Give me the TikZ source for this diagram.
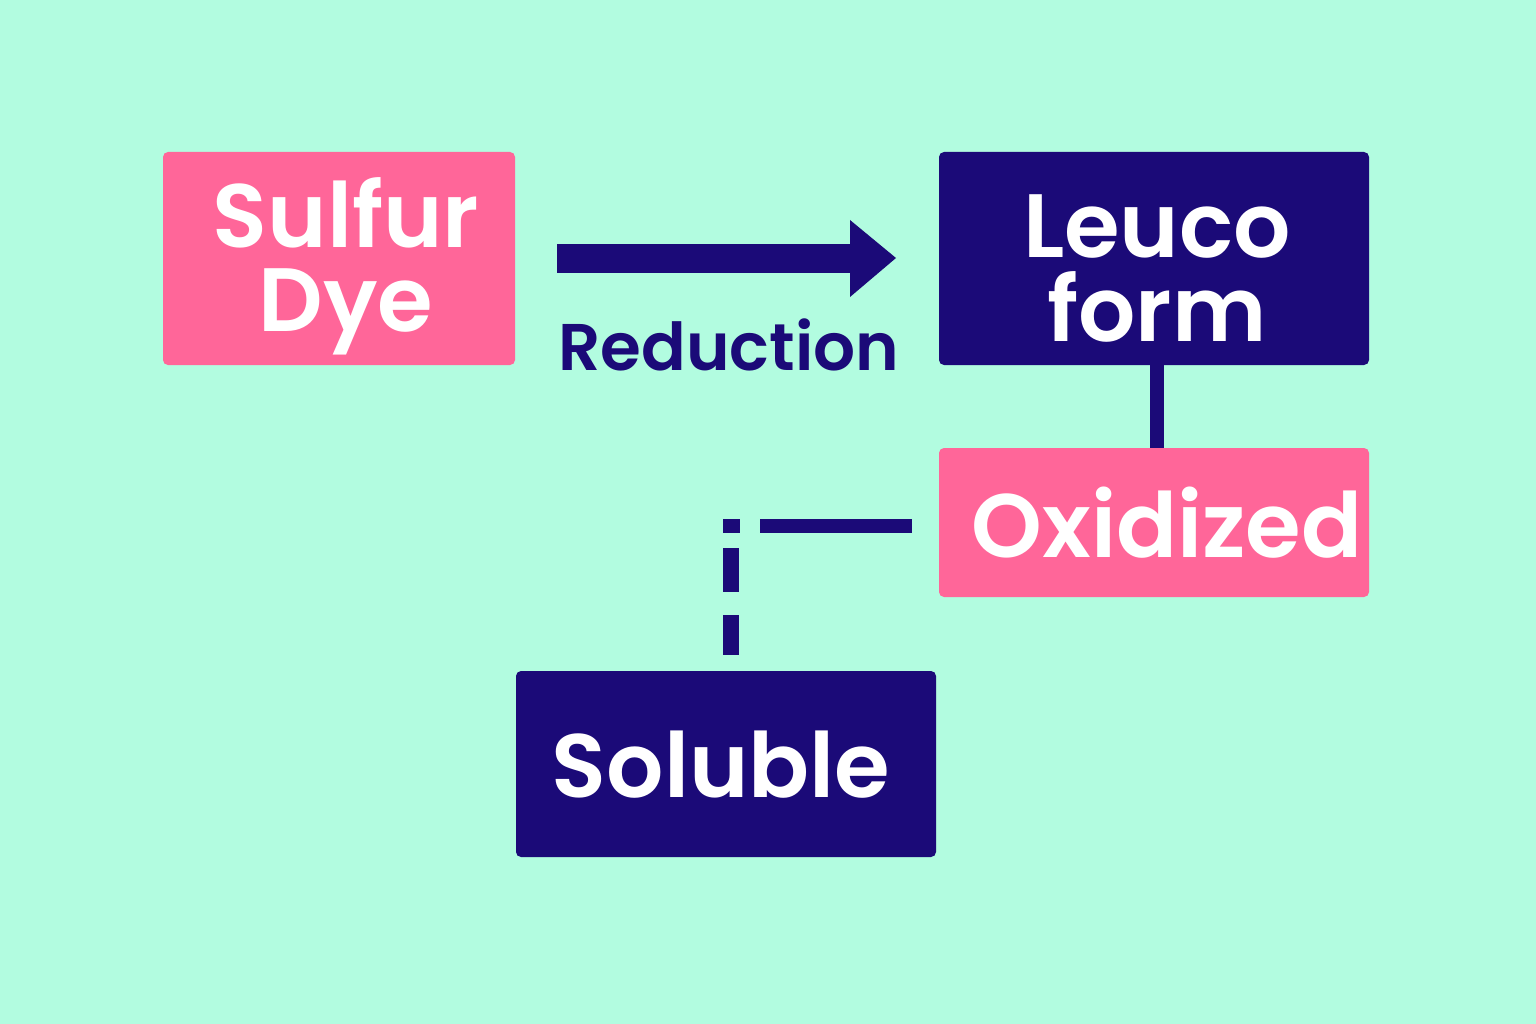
\documentclass[tikz,border=0pt]{standalone}
\usepackage{fontspec}
\setmainfont{Poppins}[BoldFont={Poppins SemiBold}]
\definecolor{bg}{HTML}{B2FCE0}
\definecolor{pk}{HTML}{FF6699}
\definecolor{nv}{HTML}{1B0A78}
\begin{document}
\begin{tikzpicture}[x=1pt,y=-1pt,
  lbl/.style={text=white,font=\bfseries\fontsize{90}{84}\selectfont,align=center,inner sep=0pt}]
\fill[bg] (0,0) rectangle (1536,1024);
\useasboundingbox (0,0) rectangle (1536,1024);
\fill[pk,rounded corners=5pt] (163,152) rectangle (515,365);
\fill[nv,rounded corners=5pt] (939,152) rectangle (1369,365);
\fill[pk,rounded corners=5pt] (939,448) rectangle (1369,597);
\fill[nv,rounded corners=5pt] (516,671) rectangle (936,857);
\node[lbl] (sd) at (346,266) {Sulfur\\Dye};
\node[lbl] (lf) at (1157,268) {Leuco\\form};
\node[lbl] (ox) at (1167,523) {Oxidized};
\node[lbl] (so) at (721,765) {Soluble};
\fill[nv] (557,244) rectangle (852,273);
\fill[nv] (850,220) -- (896,258) -- (850,297) -- cycle;
\node[text=nv,font=\bfseries\fontsize{66}{70}\selectfont] (red) at (729,345) {Reduction};
\draw[nv,line width=14pt] (1157,365) -- (1157,448);
\fill[nv] (760,519) rectangle (912,533);
\fill[nv] (723,519) rectangle (740,533);
\fill[nv] (723,548) rectangle (739,592);
\fill[nv] (723,615) rectangle (739,655);
\end{tikzpicture}
\end{document}
